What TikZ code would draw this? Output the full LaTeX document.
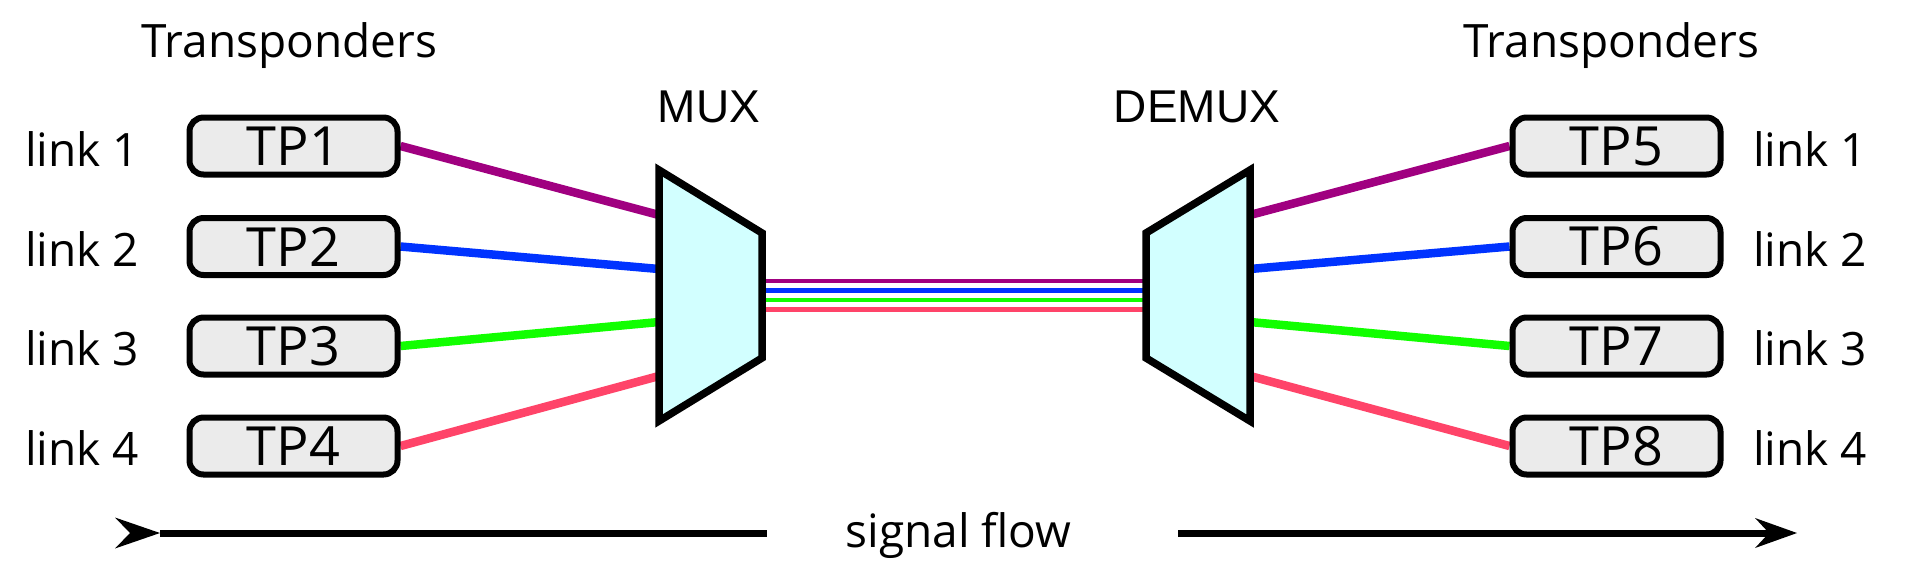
\documentclass[tikz,border=0pt]{standalone}
\usepackage{fontspec}
\setmainfont{Open Sans}
\newfontfamily\muxfont{Liberation Sans}
\usetikzlibrary{arrows.meta,backgrounds}
\definecolor{lk1}{HTML}{A00080}
\definecolor{lk2}{HTML}{0033FF}
\definecolor{lk3}{HTML}{11FF00}
\definecolor{lk4}{HTML}{FF4469}
\definecolor{boxgrey}{HTML}{EBEBEB}
\definecolor{muxfill}{HTML}{D2FFFF}

\tikzset{
  tpbox/.style={draw, line width=3pt, fill=boxgrey, rounded corners=7pt,
    minimum width=104pt, minimum height=28.5pt, inner sep=0pt,
    font=\fontsize{27}{32}\selectfont},
  lbl/.style={font=\fontsize{23}{28}\selectfont, inner sep=0pt, anchor=base},
  muxshape/.style={draw, line width=3.75pt, fill=muxfill},
  lk/.style={line width=4.25pt},
  fib/.style={line width=2.25pt},
  flow/.style={line width=3.5pt},
}

\begin{document}
\begin{tikzpicture}[x=0.5pt,y=-0.5pt]
  \useasboundingbox (0,0) rectangle (1910,579);
  % headings
  \node[lbl] (hdL) at (289.5,57) {Transponders};
  \node[lbl] (hdR) at (1611.5,57) {Transponders};
  \node[lbl, font=\muxfont\fontsize{23}{28}\selectfont] (muxlbl) at (709,122) {MUX};
  \node[lbl, font=\muxfont\fontsize{23}{28}\selectfont] (dmxlbl) at (1197,122) {DEMUX};
  % mux / demux
  \coordinate (muxA) at (659,170);  \coordinate (muxB) at (762,233);
  \coordinate (muxC) at (762,358);  \coordinate (muxD) at (659,421);
  \coordinate (dmxA) at (1250,170); \coordinate (dmxB) at (1146,233);
  \coordinate (dmxC) at (1146,358); \coordinate (dmxD) at (1250,421);
  \draw[muxshape] (muxA) -- (muxB) -- (muxC) -- (muxD) -- cycle;
  \draw[muxshape] (dmxA) -- (dmxB) -- (dmxC) -- (dmxD) -- cycle;
  % transponders and links
  \foreach \k/\y/\yb/\ye in {1/146/166/215, 2/246.5/266.5/269, 3/346/365.5/322, 4/446/465.5/376}
    { \pgfmathtruncatemacro{\r}{\k+4}
      \node[tpbox] (tp\k) at (293.5,\y) {TP\k};
      \node[tpbox] (tp\r) at (1616.5,\y) {TP\r};
      \node[lbl] (lnkL\k) at (82,\yb) {link \k};
      \node[lbl] (lnkR\k) at (1810,\yb) {link \k};
      \coordinate (muxin\k) at (659,\ye);
      \coordinate (dmxout\k) at (1250,\ye);
      \begin{scope}[on background layer]
        \draw[lk, lk\k] (tp\k.east) -- (muxin\k);
        \draw[lk, lk\k] (dmxout\k) -- (tp\r.west);
      \end{scope} }
  % fibre between mux and demux
  \foreach \k/\y in {1/281, 2/290.5, 3/300, 4/309.5}
    { \coordinate (fibL\k) at (762,\y);
      \coordinate (fibR\k) at (1146,\y);
      \begin{scope}[on background layer]
        \draw[fib, lk\k] (fibL\k) -- (fibR\k);
      \end{scope} }
  % signal flow
  \coordinate (flowA) at (115,533);  \coordinate (flowB) at (767,533);
  \coordinate (flowC) at (1178,533); \coordinate (flowD) at (1797,533);
  \draw[flow, {Stealth[reversed, length=22.5pt, width=15.5pt, inset=7.5pt, line width=0pt]}-] (flowA) -- (flowB);
  \draw[flow, -{Stealth[length=21pt, width=15pt, inset=7pt, line width=0pt]}] (flowC) -- (flowD);
  \node[lbl] (sigflow) at (958.5,547) {signal flow};
\end{tikzpicture}
\end{document}
